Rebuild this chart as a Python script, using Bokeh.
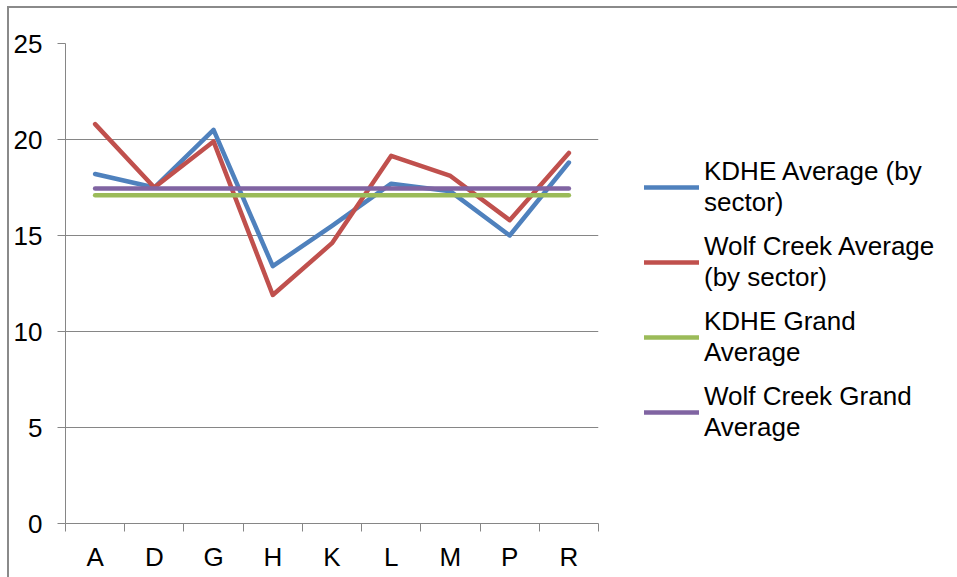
from bokeh.plotting import figure
from bokeh.models import (Range1d, FixedTicker, Legend, LegendItem, ColumnDataSource)
from bokeh.embed import file_html
from bokeh.resources import INLINE

# ---- data ----
sectors = ["A", "D", "G", "H", "K", "L", "M", "P", "R"]
kdhe_avg = [18.2, 17.5, 20.5, 13.4, 15.5, 17.7, 17.3, 15.0, 18.8]
wolf_avg = [20.8, 17.5, 19.9, 11.9, 14.6, 19.15, 18.1, 15.8, 19.3]
kdhe_grand = 17.1
wolf_grand = 17.45
series_names = ["KDHE Average (by\nsector)", "Wolf Creek Average\n(by sector)",
                "KDHE Grand\nAverage", "Wolf Creek Grand\nAverage"]
y_ticks = [0, 5, 10, 15, 20, 25]

xpos = [i + 0.5 for i in range(len(sectors))]
n = len(sectors)

FONT = "Liberation Sans"
GRAY = "#868686"

p = figure(width=948, height=569, output_backend="svg", toolbar_location=None,
           x_range=Range1d(0, n), y_range=Range1d(0, 25),
           frame_width=533, frame_height=480,
           min_border_left=56, min_border_top=35, min_border_right=359, min_border_bottom=54)
p.outline_line_color = None
p.background_fill_color = "white"
p.border_fill_color = "white"
p.styles = {"margin-left": "7px", "margin-top": "6px",
            "border-left": "2px solid #8a8a8a", "border-top": "2px solid #8a8a8a"}

# grid
p.xgrid.visible = False
p.ygrid.ticker = FixedTicker(ticks=y_ticks)
p.ygrid.grid_line_color = GRAY
p.ygrid.grid_line_width = 1

# y axis
ya = p.yaxis[0]
ya.ticker = FixedTicker(ticks=y_ticks)
ya.axis_line_color = GRAY
ya.major_tick_line_color = GRAY
ya.major_tick_out = 8
ya.major_tick_in = 0
ya.minor_tick_line_color = None
ya.major_label_text_font = FONT
ya.major_label_text_font_size = "26px"
ya.major_label_text_color = "black"
ya.major_label_standoff = 15

# x axis
xa = p.xaxis[0]
xa.ticker = FixedTicker(ticks=xpos, minor_ticks=list(range(n + 1)))
xa.major_label_overrides = {x: s for x, s in zip(xpos, sectors)}
xa.axis_line_color = GRAY
xa.major_tick_line_color = None
xa.major_tick_out = 8
xa.major_tick_in = 0
xa.minor_tick_line_color = GRAY
xa.minor_tick_out = 8
xa.minor_tick_in = 0
xa.major_label_text_font = FONT
xa.major_label_text_font_size = "26px"
xa.major_label_text_color = "black"
xa.major_label_standoff = 10

src = ColumnDataSource(dict(x=xpos, kdhe=kdhe_avg, wolf=wolf_avg,
                            kg=[kdhe_grand] * n, wg=[wolf_grand] * n))
colors = ["#4F81BD", "#C0504D", "#9BBB59", "#8064A2"]
cols = ["kdhe", "wolf", "kg", "wg"]
rs = []
for c, col in zip(cols, colors):
    r = p.line("x", c, source=src, line_color=col, line_width=4.5,
               line_join="round", line_cap="round")
    rs.append(r)

legend = Legend(items=[LegendItem(label=nm, renderers=[r]) for nm, r in zip(series_names, rs)],
                location=(46, 80))
legend.border_line_color = None
legend.background_fill_alpha = 0
legend.label_text_font = FONT
legend.label_text_font_size = "26px"
legend.label_text_line_height = 1.15
legend.label_text_color = "black"
legend.glyph_width = 55
legend.glyph_height = 20
legend.label_standoff = 5
legend.spacing = 13
legend.margin = 0
legend.padding = 10
p.add_layout(legend, "right")

open("out.html", "w").write(file_html(p, INLINE))
